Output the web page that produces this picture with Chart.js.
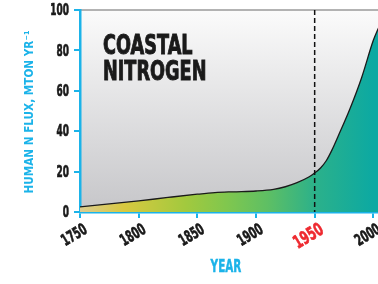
<!DOCTYPE html>
<html>
<head>
<meta charset="utf-8">
<script src="https://cdn.jsdelivr.net/npm/chart.js@4"></script>
<style>
  html, body { margin: 0; padding: 0; background: #fff; overflow: hidden; }
  #wrap { width: 378px; height: 284px; overflow: hidden; position: relative; }
  #box { width: 440px; height: 284px; position: absolute; left: 0; top: 0; }
</style>
</head>
<body>
<div id="wrap"><div id="box"><canvas id="nChart"></canvas></div></div>
<script>
// data
const years = [1750, 1775, 1800, 1825, 1850, 1865, 1880, 1900, 1915, 1925, 1935, 1945, 1950, 1955, 1960, 1965, 1970, 1980, 1990, 2000, 2005, 2010];
const flux  = [2.5, 4, 5.5, 7.2, 8.8, 9.6, 10, 10.4, 11.2, 12.5, 14.5, 17.3, 19.3, 21.8, 25.5, 31, 37.5, 51, 66.5, 85, 92, 99];
const yearTicks = [1750, 1800, 1850, 1900, 1950, 2000, 2050];
const fluxTicks = [0, 20, 40, 60, 80, 100];
const markerYear = 1950;
const titleLines = ["COASTAL", "NITROGEN"];
const yTitle = "HUMAN N FLUX, MTON YR\u207B\u00B9";
const xTitle = "YEAR";

const CYAN = "#1bb3e9";
const RED = "#ee2a30";
const INK = "#1a1a1a";
const FONT = "'DejaVu Sans', sans-serif";

// draw text squeezed horizontally, with a thin stroke to make it heavier
function squeezed(ctx, text, x, y, sx, align, baseline, extra) {
    ctx.save();
    ctx.translate(x, y);
    ctx.scale(sx, 1);
    ctx.textAlign = align;
    ctx.textBaseline = baseline;
    ctx.fillText(text, 0, 0);
    if (extra) {
        ctx.strokeStyle = ctx.fillStyle;
        ctx.lineWidth = extra;
        ctx.strokeText(text, 0, 0);
    }
    ctx.restore();
}

const decor = {
    id: "decor",
    beforeDraw(chart) {
        const ctx = chart.ctx;
        const a = chart.chartArea;
        // grey plot background
        const g = ctx.createLinearGradient(0, a.top, 0, a.bottom);
        g.addColorStop(0, "#fbfbfb");
        g.addColorStop(1, "#c6c6c9");
        ctx.save();
        ctx.fillStyle = g;
        ctx.fillRect(a.left, a.top, a.right - a.left, a.bottom - a.top);
        ctx.strokeStyle = "#9a9a9a";
        ctx.lineWidth = 1.5;
        ctx.beginPath();
        ctx.moveTo(a.left, a.top);
        ctx.lineTo(a.right, a.top);
        ctx.stroke();
        ctx.restore();
    },
    afterDatasetsDraw(chart) {
        const ctx = chart.ctx;
        const a = chart.chartArea;
        const x = chart.scales.x.getPixelForValue(markerYear);
        ctx.save();
        ctx.strokeStyle = "#111";
        ctx.lineWidth = 1.5;
        ctx.setLineDash([5, 3]);
        ctx.beginPath();
        ctx.moveTo(x, a.top);
        ctx.lineTo(x, a.bottom);
        ctx.stroke();
        ctx.restore();

        ctx.save();
        ctx.fillStyle = INK;
        ctx.font = "bold 26px " + FONT;
        squeezed(ctx, titleLines[0], 103, 54, 0.68, "left", "alphabetic", 1);
        squeezed(ctx, titleLines[1], 103, 80, 0.68, "left", "alphabetic", 1);
        ctx.restore();
    },
    afterDraw(chart) {
        const ctx = chart.ctx;
        const xs = chart.scales.x, ys = chart.scales.y;
        ctx.save();
        ctx.font = "bold 16px " + FONT;
        ctx.fillStyle = INK;
        ys.ticks.forEach(t => {
            squeezed(ctx, String(t.value), 69, ys.getPixelForValue(t.value) + 1, 0.56, "right", "middle", 0.7);
        });
        xs.ticks.forEach(t => {
            const px = xs.getPixelForValue(t.value);
            const big = t.value === markerYear;
            ctx.save();
            ctx.fillStyle = big ? RED : INK;
            ctx.strokeStyle = ctx.fillStyle;
            ctx.font = (big ? "bold 18px " : "bold 16px ") + FONT;
            ctx.translate(px + (big ? 3 : 2), big ? 221 : 222);
            ctx.rotate(-31 * Math.PI / 180);
            ctx.scale(big ? 0.63 : 0.6, 1);
            ctx.textAlign = "right";
            ctx.textBaseline = "top";
            ctx.fillText(String(t.value), 0, 0);
            ctx.lineWidth = 0.7;
            ctx.strokeText(String(t.value), 0, 0);
            ctx.restore();
        });
        ctx.fillStyle = CYAN;
        ctx.font = "bold 18px " + FONT;
        squeezed(ctx, xTitle, 226, 272, 0.58, "center", "alphabetic", 0.5);
        ctx.font = "bold 12px " + FONT;
        ctx.save();
        ctx.translate(33, 112);
        ctx.rotate(-Math.PI / 2);
        const w = ctx.measureText(yTitle).width;
        ctx.scale(163 / w, 1);
        ctx.textAlign = "center";
        ctx.textBaseline = "alphabetic";
        ctx.fillText(yTitle, 0, 0);
        ctx.restore();
        ctx.restore();
    }
};

function fillGradient(context) {
    const chart = context.chart;
    const a = chart.chartArea;
    if (!a) return "#60c060";
    const xs = chart.scales.x;
    const x0 = xs.getPixelForValue(1750), x1 = xs.getPixelForValue(2000);
    const g = chart.ctx.createLinearGradient(x0, 0, x1, 0);
    g.addColorStop(0.00, "#dccc90");
    g.addColorStop(0.15, "#d8c940");
    g.addColorStop(0.36, "#a2c93e");
    g.addColorStop(0.50, "#80c74e");
    g.addColorStop(0.64, "#5ebf64");
    g.addColorStop(0.80, "#2cb18a");
    g.addColorStop(1.00, "#0ca9a2");
    return g;
}

new Chart(document.getElementById("nChart"), {
    type: "line",
    data: {
        datasets: [{
            data: years.map((y, i) => ({ x: y, y: flux[i] })),
            borderColor: INK,
            borderWidth: 1.3,
            backgroundColor: fillGradient,
            fill: "origin",
            pointRadius: 0,
            cubicInterpolationMode: "monotone"
        }]
    },
    options: {
        responsive: true,
        maintainAspectRatio: false,
        animation: false,
        layout: { padding: { top: 10, right: 8, left: 0, bottom: 0 } },
        plugins: { legend: { display: false }, tooltip: { enabled: false } },
        scales: {
            x: {
                type: "linear",
                min: 1750,
                max: 2050,
                afterBuildTicks: s => { s.ticks = yearTicks.map(v => ({ value: v })); },
                afterFit: s => { s.height = 72; },
                ticks: { display: false },
                grid: { drawOnChartArea: false, color: CYAN, lineWidth: 2, tickLength: 6 },
                border: { color: CYAN, width: 2.5 }
            },
            y: {
                min: 0,
                max: 100,
                afterBuildTicks: s => { s.ticks = fluxTicks.map(v => ({ value: v })); },
                afterFit: s => { s.width = 80; },
                ticks: { display: false },
                grid: { drawOnChartArea: false, color: CYAN, lineWidth: 2, tickLength: 6 },
                border: { color: CYAN, width: 2.5 }
            }
        }
    },
    plugins: [decor]
});
</script>
</body>
</html>
